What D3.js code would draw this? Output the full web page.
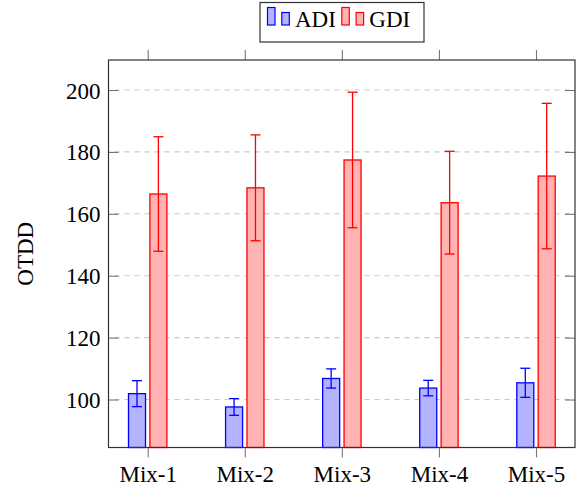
<!DOCTYPE html>
<html>
<head>
<meta charset="utf-8">
<script src="https://cdn.jsdelivr.net/npm/d3@7/dist/d3.min.js"></script>
<style>
  html, body { margin: 0; padding: 0; background: #fff; }
</style>
</head>
<body>
<svg id="chart" width="579" height="487"></svg>
<script>
// Categories and series
const categories = ["Mix-1", "Mix-2", "Mix-3", "Mix-4", "Mix-5"];
const seriesNames = ["ADI", "GDI"];
const adiValues = [101.9, 97.6, 106.8, 103.7, 105.4];
const adiErrors = [4.2, 2.7, 3.1, 2.5, 4.7];
const gdiValues = [166.4, 168.4, 177.4, 163.6, 172.2];
const gdiErrors = [18.5, 17.1, 21.9, 16.6, 23.5];
const yTicks = [100, 120, 140, 160, 180, 200];

const series = [
  { name: seriesNames[0], values: adiValues, errors: adiErrors, stroke: "#0000ff", fill: "#b3b3ff" },
  { name: seriesNames[1], values: gdiValues, errors: gdiErrors, stroke: "#ff0000", fill: "#ffb3b3" }
];

const serif = "'Liberation Serif', 'Times New Roman', Times, 'DejaVu Serif', serif";
const svg = d3.select("#chart");
const frame = { left: 108.5, right: 575, top: 60, bottom: 447.5 };
const fontSize = 23;

const y = d3.scaleLinear().domain([84.5, 209.7]).range([frame.bottom, frame.top]);
const x = d3.scalePoint().domain(categories).range([147.7, 536]);
const barWidth = 17;
const barShift = [-10.7, 10.7];

// Dashed horizontal grid
svg.append("g").selectAll("line").data(yTicks).join("line")
  .attr("x1", frame.left).attr("x2", frame.right)
  .attr("y1", d => y(d)).attr("y2", d => y(d))
  .attr("stroke", "#c8c8c8").attr("stroke-width", 1.1)
  .attr("stroke-dasharray", "5,5").attr("stroke-dashoffset", -6);

// Bars
series.forEach((s, si) => {
  const g = svg.append("g");
  g.selectAll("rect").data(categories).join("rect")
    .attr("x", c => x(c) + barShift[si] - barWidth / 2)
    .attr("width", barWidth)
    .attr("y", (c, i) => y(s.values[i]))
    .attr("height", (c, i) => frame.bottom - y(s.values[i]))
    .attr("fill", s.fill)
    .attr("stroke", s.stroke).attr("stroke-width", 1.3);
});

// Error bars
series.forEach((s, si) => {
  const g = svg.append("g").attr("stroke", s.stroke).attr("stroke-width", 1.3);
  categories.forEach((c, i) => {
    const cx = x(c) + barShift[si];
    const lo = y(s.values[i] - s.errors[i]);
    const hi = y(s.values[i] + s.errors[i]);
    g.append("line").attr("x1", cx).attr("x2", cx).attr("y1", lo).attr("y2", hi);
    g.append("line").attr("x1", cx - 5).attr("x2", cx + 5).attr("y1", lo).attr("y2", lo);
    g.append("line").attr("x1", cx - 5).attr("x2", cx + 5).attr("y1", hi).attr("y2", hi);
  });
});

// Y axis (left, ticks inside) and mirrored ticks on the right
const yAxisLeft = d3.axisLeft(y).tickValues(yTicks).tickSize(-10).tickPadding(8).tickFormat(d3.format("d"));
const gyl = svg.append("g").attr("transform", `translate(${frame.left},0)`).call(yAxisLeft);
gyl.select(".domain").remove();
gyl.attr("font-family", serif).attr("font-size", fontSize);
gyl.selectAll(".tick line").attr("stroke", "#777").attr("stroke-width", 1.1);
gyl.selectAll(".tick text").attr("font-family", serif).attr("font-size", fontSize).attr("dy", "0.35em");

const yAxisRight = d3.axisRight(y).tickValues(yTicks).tickSize(-10).tickFormat("");
const gyr = svg.append("g").attr("transform", `translate(${frame.right},0)`).call(yAxisRight);
gyr.select(".domain").remove();
gyr.selectAll(".tick line").attr("stroke", "#777").attr("stroke-width", 1.1);

// X axis (bottom labels, ticks outside) and mirrored ticks on top
const xAxisBottom = d3.axisBottom(x).tickSize(10).tickPadding(8);
const gxb = svg.append("g").attr("transform", `translate(0,${frame.bottom})`).call(xAxisBottom);
gxb.select(".domain").remove();
gxb.attr("font-family", serif).attr("font-size", fontSize);
gxb.selectAll(".tick line").attr("stroke", "#777").attr("stroke-width", 1.1);
gxb.selectAll(".tick text").attr("font-family", serif).attr("font-size", fontSize).attr("dy", "0.71em");

const xAxisTop = d3.axisTop(x).tickSize(10).tickFormat("");
const gxt = svg.append("g").attr("transform", `translate(0,${frame.top})`).call(xAxisTop);
gxt.select(".domain").remove();
gxt.selectAll(".tick line").attr("stroke", "#777").attr("stroke-width", 1.1);

// Plot frame
svg.append("rect")
  .attr("x", frame.left).attr("y", frame.top)
  .attr("width", frame.right - frame.left).attr("height", frame.bottom - frame.top)
  .attr("fill", "none").attr("stroke", "#333").attr("stroke-width", 1.2);

// Y axis title
svg.append("text")
  .attr("transform", `translate(33,${(frame.top + frame.bottom) / 2}) rotate(-90)`)
  .attr("text-anchor", "middle")
  .attr("font-family", serif)
  .attr("font-size", fontSize)
  .text("OTDD");

// Legend
const legend = svg.append("g");
legend.append("rect")
  .attr("x", 260).attr("y", 2.5).attr("width", 164).attr("height", 39.5)
  .attr("fill", "#fff").attr("stroke", "#333").attr("stroke-width", 1.2);
const legendX = [267.5, 341.8];
series.forEach((s, si) => {
  const lx = legendX[si];
  legend.append("rect").attr("x", lx).attr("y", 7.5).attr("width", 7.5).attr("height", 17.5)
    .attr("fill", s.fill).attr("stroke", s.stroke).attr("stroke-width", 1.2);
  legend.append("rect").attr("x", lx + 14.3).attr("y", 12.5).attr("width", 7.5).attr("height", 12.5)
    .attr("fill", s.fill).attr("stroke", s.stroke).attr("stroke-width", 1.2);
  legend.append("text").attr("x", lx + 27.5).attr("y", 27)
    .attr("font-family", serif)
    .attr("font-size", fontSize).text(s.name);
});
</script>
</body>
</html>
